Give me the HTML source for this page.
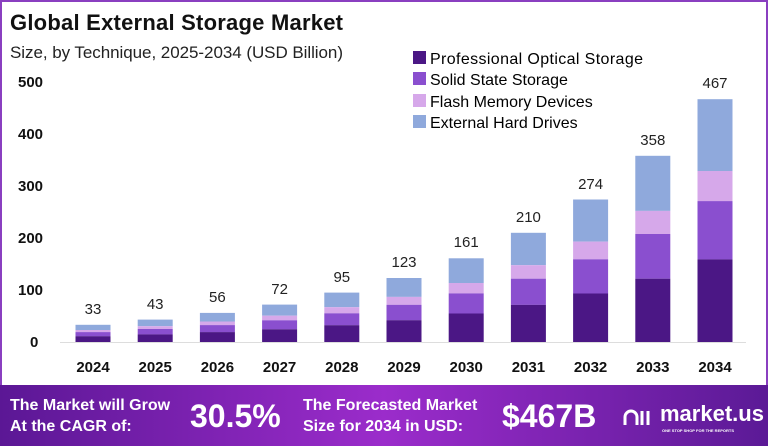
<!DOCTYPE html><html><head><style>body{margin:0}svg{display:block}</style></head><body>
<svg width="768" height="446" xmlns="http://www.w3.org/2000/svg" font-family="Liberation Sans, sans-serif">
<defs><linearGradient id="g" x1="0" x2="1"><stop offset="0" stop-color="#5b1795"/><stop offset="0.5" stop-color="#9b2ccb"/><stop offset="1" stop-color="#5b1a96"/></linearGradient></defs>
<rect width="768" height="446" fill="#fff"/>
<rect x="1" y="1" width="766" height="444" fill="none" stroke="#8a3fc0" stroke-width="2"/>
<text x="10" y="30" font-size="22" font-weight="bold" fill="#111" textLength="333">Global External Storage Market</text>
<text x="10" y="58" font-size="17" fill="#222" textLength="333">Size, by Technique, 2025-2034 (USD Billion)</text>
<g font-size="15" font-weight="bold" fill="#111">
<text x="18" y="87">500</text><text x="18" y="139">400</text><text x="18" y="191">300</text><text x="18" y="243">200</text><text x="18" y="295">100</text><text x="30" y="347">0</text></g>
<line x1="60" y1="342.5" x2="746" y2="342.5" stroke="#ddd"/>
<g font-size="16">
<rect x="413" y="51" width="13" height="13" fill="#4b1785"/><text x="430" y="64" textLength="213">Professional Optical Storage</text>
<rect x="413" y="72" width="13" height="13" fill="#8a4fcf"/><text x="430" y="85">Solid State Storage</text>
<rect x="413" y="94" width="13" height="13" fill="#d6a8ea"/><text x="430" y="107">Flash Memory Devices</text>
<rect x="413" y="115" width="13" height="13" fill="#8fa9dc"/><text x="430" y="128">External Hard Drives</text></g>
<g id="bars">
<g transform="translate(75.5,0)"><rect y="324.8" width="35" height="5.2" fill="#8fa9dc"/><rect y="330" width="35" height="2.1" fill="#d6a8ea"/><rect y="332.1" width="35" height="4.1" fill="#8a4fcf"/><rect y="336.2" width="35" height="5.8" fill="#4b1785"/></g>
<g transform="translate(137.7,0)"><rect y="319.6" width="35" height="6.6" fill="#8fa9dc"/><rect y="326.2" width="35" height="2.8" fill="#d6a8ea"/><rect y="329" width="35" height="5.4" fill="#8a4fcf"/><rect y="334.4" width="35" height="7.6" fill="#4b1785"/></g>
<g transform="translate(199.9,0)"><rect y="312.9" width="35" height="8.6" fill="#8fa9dc"/><rect y="321.5" width="35" height="3.6" fill="#d6a8ea"/><rect y="325.1" width="35" height="7" fill="#8a4fcf"/><rect y="332.1" width="35" height="9.9" fill="#4b1785"/></g>
<g transform="translate(262.1,0)"><rect y="304.6" width="35" height="11.1" fill="#8fa9dc"/><rect y="315.7" width="35" height="4.6" fill="#d6a8ea"/><rect y="320.3" width="35" height="9" fill="#8a4fcf"/><rect y="329.3" width="35" height="12.7" fill="#4b1785"/></g>
<g transform="translate(324.3,0)"><rect y="292.6" width="35" height="14.6" fill="#8fa9dc"/><rect y="307.2" width="35" height="6.1" fill="#d6a8ea"/><rect y="313.3" width="35" height="11.9" fill="#8a4fcf"/><rect y="325.2" width="35" height="16.8" fill="#4b1785"/></g>
<g transform="translate(386.5,0)"><rect y="278" width="35" height="18.9" fill="#8fa9dc"/><rect y="296.9" width="35" height="7.9" fill="#d6a8ea"/><rect y="304.8" width="35" height="15.4" fill="#8a4fcf"/><rect y="320.2" width="35" height="21.8" fill="#4b1785"/></g>
<g transform="translate(448.7,0)"><rect y="258.3" width="35" height="24.7" fill="#8fa9dc"/><rect y="283" width="35" height="10.4" fill="#d6a8ea"/><rect y="293.4" width="35" height="20.1" fill="#8a4fcf"/><rect y="313.5" width="35" height="28.5" fill="#4b1785"/></g>
<g transform="translate(510.9,0)"><rect y="232.8" width="35" height="32.4" fill="#8fa9dc"/><rect y="265.2" width="35" height="13.5" fill="#d6a8ea"/><rect y="278.7" width="35" height="26.2" fill="#8a4fcf"/><rect y="304.9" width="35" height="37.1" fill="#4b1785"/></g>
<g transform="translate(573.1,0)"><rect y="199.5" width="35" height="42.1" fill="#8fa9dc"/><rect y="241.6" width="35" height="17.7" fill="#d6a8ea"/><rect y="259.3" width="35" height="34.2" fill="#8a4fcf"/><rect y="293.5" width="35" height="48.5" fill="#4b1785"/></g>
<g transform="translate(635.3,0)"><rect y="155.8" width="35" height="55.1" fill="#8fa9dc"/><rect y="210.9" width="35" height="23.1" fill="#d6a8ea"/><rect y="234" width="35" height="44.7" fill="#8a4fcf"/><rect y="278.7" width="35" height="63.3" fill="#4b1785"/></g>
<g transform="translate(697.5,0)"><rect y="99.2" width="35" height="71.8" fill="#8fa9dc"/><rect y="171" width="35" height="30.1" fill="#d6a8ea"/><rect y="201.1" width="35" height="58.3" fill="#8a4fcf"/><rect y="259.4" width="35" height="82.6" fill="#4b1785"/></g>
</g>
<g font-size="15" fill="#222" text-anchor="middle">
<text x="93" y="314">33</text><text x="155.2" y="309">43</text><text x="217.4" y="302">56</text><text x="279.6" y="294">72</text><text x="341.8" y="282">95</text><text x="404" y="267">123</text><text x="466.2" y="247">161</text><text x="528.4" y="222">210</text><text x="590.6" y="189">274</text><text x="652.8" y="145">358</text><text x="715" y="88">467</text></g>
<g font-size="15" font-weight="bold" fill="#111" text-anchor="middle">
<text x="93" y="372">2024</text><text x="155.2" y="372">2025</text><text x="217.4" y="372">2026</text><text x="279.6" y="372">2027</text><text x="341.8" y="372">2028</text><text x="404" y="372">2029</text><text x="466.2" y="372">2030</text><text x="528.4" y="372">2031</text><text x="590.6" y="372">2032</text><text x="652.8" y="372">2033</text><text x="715" y="372">2034</text></g>
<rect x="0" y="385" width="768" height="61" fill="url(#g)"/>
<g fill="#fff" font-weight="bold">
<text x="10" y="410" font-size="16">The Market will Grow</text>
<text x="10" y="431" font-size="16">At the CAGR of:</text>
<text x="190" y="427" font-size="32">30.5%</text>
<text x="303" y="410" font-size="16">The Forecasted Market</text>
<text x="303" y="431" font-size="16">Size for 2034 in USD:</text>
<text x="502" y="427" font-size="32">$467B</text>
<text x="660" y="421" font-size="22">market.us</text>
<text x="662" y="432" font-size="4">ONE STOP SHOP FOR THE REPORTS</text>
<path d="M625 425 v-8 a6 6 0 0 1 12 0 v8 M642 425 v-14 M648 425 v-14" stroke="#fff" stroke-width="3" fill="none"/>
</g>
</svg>
</body></html>
